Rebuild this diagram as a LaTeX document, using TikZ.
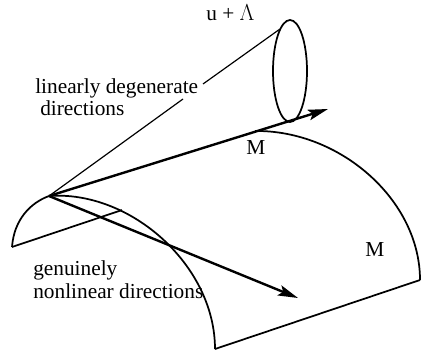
\documentclass[tikz,border=0pt]{standalone}
\usepackage{fontspec}
\setmainfont{Liberation Serif}
\usetikzlibrary{arrows.meta}

\begin{document}
\begin{tikzpicture}[x=0.75pt,y=-0.75pt]
  % Styles for the surface, the cone and the arrows
  \tikzset{
    surfaceLine/.style={line width=1.3pt},
    coneLine/.style={line width=0.9pt},
    directionArrow/.style={line width=1.8pt,-{Stealth[length=15pt,width=8pt,inset=3pt]}},
    labelText/.style={font=\fontsize{16}{18}\selectfont,inner sep=0pt,anchor=base west}
  }

  % Fix the page size
  \useasboundingbox (0,0) rectangle (423,353);

  % Points of the cone
  \coordinate (apex) at (49,196);
  \coordinate (coneGapA) at (183,99);
  \coordinate (coneGapB) at (203,84);
  \coordinate (coneTop) at (280,29);
  \coordinate (tipUp) at (328,109);
  \coordinate (tipDown) at (298,298);

  % Corners of the surface
  \coordinate (cornerA) at (12,247);
  \coordinate (cornerB) at (215,349);
  \coordinate (cornerC) at (420,280);
  \coordinate (backEnd) at (122,210);
  \coordinate (backStart) at (255,131);

  % Draw the surface
  \draw[surfaceLine] (cornerA) .. controls (14,220) and (30,203) .. (apex);
  \draw[surfaceLine] (apex) .. controls (130,190) and (215,265) .. (cornerB);
  \draw[surfaceLine] (cornerA) -- (backEnd);
  \draw[surfaceLine] (cornerB) -- (cornerC);
  \draw[surfaceLine] (backStart) .. controls (340,130) and (420,200) .. (cornerC);

  % Draw the cone, the line stops at the label
  \draw[coneLine] (apex) -- (coneGapA);
  \draw[coneLine] (coneGapB) -- (coneTop);
  \draw[surfaceLine] (290,71) ellipse (17 and 51);

  % Draw the two directions
  \draw[directionArrow] (apex) -- (tipUp);
  \draw[directionArrow] (apex) -- (tipDown);

  % Labels
  \node[labelText] (coneLabel) at (206,21) {u + $\Lambda$};
  \node[labelText] (linearOne) at (35,93) {linearly degenerate};
  \node[labelText] (linearTwo) at (40,115) {directions};
  \node[labelText] (genuineOne) at (33,275) {genuinely};
  \node[labelText] (genuineTwo) at (33,298) {nonlinear directions};
  \node[labelText] (manifoldA) at (246,154) {M};
  \node[labelText] (manifoldB) at (365,256) {M};
\end{tikzpicture}
\end{document}
